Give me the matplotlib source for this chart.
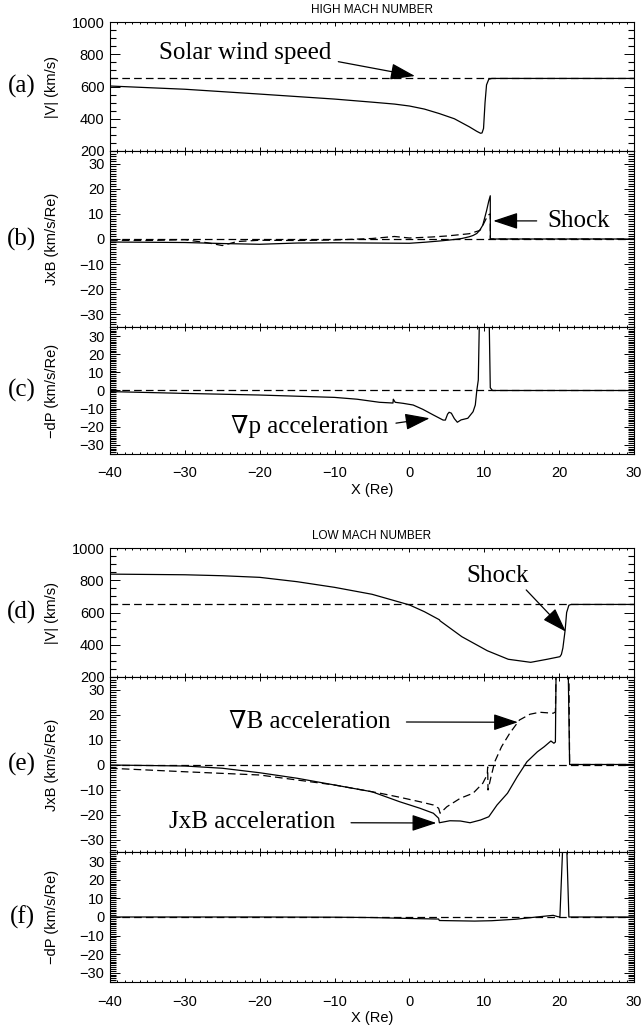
import numpy as np
import matplotlib
matplotlib.use("Agg")
import matplotlib.pyplot as plt
from matplotlib.ticker import MultipleLocator

plt.rcParams['font.family'] = ['Liberation Sans', 'DejaVu Sans']
plt.rcParams['lines.scale_dashes'] = False

# ---- data (x in Re) ----
# HIGH MACH NUMBER
a_x = [-40, -30, -20, -10, -5, -2, 0, 2, 4, 6, 7, 8, 9, 9.5, 9.7, 9.9, 10.1, 10.3, 10.6, 11, 30]
a_v = [603, 583, 553, 522, 503, 491, 479, 460, 432, 400, 375, 350, 322, 310, 312, 340, 500, 610, 645, 650, 650]

b_x = [-40, -30, -25, -20, -15, -10, -5, 0, 2, 4, 6, 7, 8, 8.5, 9, 9.4, 9.8, 10.0, 10.3, 10.6, 10.8, 10.81, 30]
b_v = [-1.2, -1.4, -1.8, -2.1, -1.6, -1.5, -1.6, -1.7, -1.3, -0.8, -0.2, 0.2, 0.9, 1.4, 2.2, 3.5, 5.5, 7.8, 11.2, 15.1, 17.2, 0, 0]
bd_x = [-40, -35, -30, -27, -25, -23, -20, -15, -10, -5, -2, 0, 3, 5, 8, 9.4, 9.8, 10.2, 10.5, 10.8, 10.81, 30]
bd_v = [-0.5, -0.6, -0.3, -1.5, -2.6, -1.0, -0.5, -0.6, -0.4, 0.2, 1.0, 0.4, 0.8, 1.2, 2.1, 3.4, 5.4, 7.8, 9.5, 10, 0, 0]

c_x = [-40, -30, -20, -10, -7, -4, -2.2, -2.15, -2.05, -1.9, -0.8, 0.5, 1.8, 3.2, 4.5, 4.8, 5.1, 5.3, 5.6,
       6.0, 6.4, 6.9, 7.8, 8.5, 8.8, 9.0, 9.2, 9.35, 10.65, 10.8, 11.1, 30]
c_v = [-0.6, -1.6, -2.5, -3.8, -4.8, -6.5, -6.9, -4.8, -5.5, -6.5, -7.1, -8.0, -10.4, -13.5, -16.3, -16.3, -13.0, -12.0, -12.5,
       -15.5, -17.5, -16.2, -15.3, -11.7, -8.0, 0, 5.8, 40, 40, 1.5, 0, 0]

# LOW MACH NUMBER
d_x = [-40, -30, -25, -20, -15, -10, -5, 0, 2, 4, 4.1, 7, 10.4, 13.2, 16.2, 18.4, 20.1, 20.3, 20.5, 20.8, 21.0, 21.3, 21.6, 30]
d_v = [838, 834, 828, 818, 791, 756, 713, 647, 605, 555, 548, 450, 363, 310, 291, 310, 326, 340, 380, 490, 600, 645, 650, 650]

e_x = [-40, -30, -25, -20, -15, -10, -5, -1.3, 1.4, 3.2, 3.9, 4.0, 5.4, 6.8, 8.1, 9.5, 10.6, 11.7, 13.1,
       14.4, 15.7, 17.1, 18.0, 18.9, 19.3, 19.5, 19.6, 21.2, 21.4, 30]
e_v = [-0.2, -0.6, -1.5, -3.3, -5.5, -8.2, -10.9, -14.9, -17.5, -19.5, -21.5, -23.3, -22.5, -22.6, -23.3, -22.2, -20.9, -16.2, -11.5,
       -4.9, 1.1, 5.1, 7.1, 9.4, 8.5, 9.0, 40, 40, 0, 0]
ed_x = [-40, -30, -20, -10, -3.9, -1.3, 1.4, 3.2, 3.9, 4.1, 5.0, 6.8, 8.5, 9.8, 10.4, 10.45, 10.5, 10.9, 11.4,
        12.3, 13.4, 14.7, 16.1, 17.4, 19.2, 19.5, 19.6, 21.3, 21.4, 30]
ed_v = [-1.5, -2.9, -4.2, -8.2, -11.5, -13.1, -14.9, -16.2, -17.5, -19.5, -16.9, -13.5, -11.5, -7.5, -4.0, -1.0, -10.2, -4.9, 1.1,
        7.1, 12.5, 17.8, 20.1, 20.9, 20.5, 21.0, 40, 40, 0, 0]

f_x = [-40, -20, -10, -5, 0, 3.9, 4.0, 8.7, 11, 14.2, 17, 19.2, 19.8, 20.1, 20.5, 21.0, 21.3, 30]
f_v = [0, 0, -0.1, -0.3, -0.8, -1.1, -1.9, -2.2, -2.0, -1.2, 0.0, 0.9, 0.2, 0, 40, 40, 0, 0]

v_sw = 650  # solar wind speed (km/s)

# ---- layout (pixel geometry of the reference) ----
W, H = 644, 1027
fig = plt.figure(figsize=(W / 100, H / 100), dpi=100)
L, R = 110, 634


def make_ax(top, bot):
    return fig.add_axes([L / W, 1 - bot / H, (R - L) / W, (bot - top) / H])


LW = 0.9
DASH = (0, (5.5, 3.0))
serif = ['Liberation Serif', 'DejaVu Serif']
SFS = 18


def style(ax, speed=False, xlabels=False):
    ax.set_xlim(-40, 30)
    ax.xaxis.set_major_locator(MultipleLocator(10))
    ax.xaxis.set_minor_locator(MultipleLocator(1))
    if speed:
        ax.set_ylim(200, 1000)
        ax.yaxis.set_major_locator(MultipleLocator(200))
        ax.yaxis.set_minor_locator(MultipleLocator(50))
    else:
        ax.set_ylim(-35, 35)
        ax.set_yticks([-30, -20, -10, 0, 10, 20, 30])
        ax.yaxis.set_minor_locator(MultipleLocator(1))
    ax.tick_params(axis='both', which='both', direction='in', top=True, right=True,
                   labelsize=10.5, width=0.7)
    ax.tick_params(axis='y', which='major', length=7, pad=4)
    ax.tick_params(axis='y', which='minor', length=4, width=0.8)
    ax.tick_params(axis='x', which='major', length=3, pad=9)
    ax.tick_params(axis='x', which='minor', length=1.5)
    ax.tick_params(axis='x', labelbottom=xlabels)
    for s in ax.spines.values():
        s.set_linewidth(0.8)
    ax.yaxis.set_label_coords(-0.098, 0.5)


def arrow(ax, tail, tip):
    ax.annotate('', xy=tip, xytext=tail,
                arrowprops=dict(arrowstyle='-|>,head_length=0.9,head_width=0.3',
                                color='black', lw=0.9, mutation_scale=17,
                                shrinkA=0, shrinkB=0))


def panel_letter(top, bot, s):
    fig.text(22 / W, 1 - (top + bot) / 2 / H, s, family=serif, fontsize=SFS,
             ha='center', va='center')


# ================= HIGH MACH NUMBER =================
fig.text((L + R) / 2 / W, 1 - 10 / H, 'HIGH MACH NUMBER', fontsize=8.5, ha='center', va='center')

ax = make_ax(22, 151)
ax.axhline(v_sw, color='black', lw=LW, ls=DASH)
ax.plot(a_x, a_v, color='black', lw=LW)
ax.set_ylabel('|V| (km/s)', fontsize=10.5)
style(ax, speed=True)
ax.text(-22, 808, 'Solar wind speed', family=serif, fontsize=SFS, ha='center', va='center')
arrow(ax, (-9.5, 754), (0.74, 665))
panel_letter(22, 151, '(a)')

ax = make_ax(151, 327)
ax.axhline(0, color='black', lw=LW, ls=DASH)
ax.plot(bd_x, bd_v, color='black', lw=LW, ls=DASH)
ax.plot(b_x, b_v, color='black', lw=LW)
ax.set_ylabel('JxB (km/s/Re)', fontsize=10.5)
style(ax)
ax.text(18.4, 7.2, 'Shock', family=serif, fontsize=SFS, ha='left', va='center')
arrow(ax, (17.0, 7.2), (11.2, 7.2))
panel_letter(151, 327, '(b)')

ax = make_ax(327, 454)
ax.axhline(0, color='black', lw=LW, ls=DASH)
ax.plot(c_x, c_v, color='black', lw=LW)
ax.set_ylabel('\u2212dP (km/s/Re)', fontsize=10.5)
style(ax, xlabels=True)
ax.set_xlabel('X (Re)', fontsize=10.5, labelpad=2)
ax.text(-13.3, -20, '\u2207p acceleration', family=serif, fontsize=SFS, ha='center', va='center')
arrow(ax, (-1.8, -18), (2.7, -15.3))
panel_letter(327, 454, '(c)')

# ================= LOW MACH NUMBER =================
fig.text((L + R) / 2 / W, 1 - 536 / H, 'LOW MACH NUMBER', fontsize=8.5, ha='center', va='center')

ax = make_ax(548, 677)
ax.axhline(v_sw, color='black', lw=LW, ls=DASH)
ax.plot(d_x, d_v, color='black', lw=LW)
ax.set_ylabel('|V| (km/s)', fontsize=10.5)
style(ax, speed=True)
ax.text(11.8, 826, 'Shock', family=serif, fontsize=SFS, ha='center', va='center')
arrow(ax, (15.6, 740), (20.9, 481))
panel_letter(548, 677, '(d)')

ax = make_ax(677, 852)
ax.axhline(0, color='black', lw=LW, ls=DASH)
ax.plot(ed_x, ed_v, color='black', lw=LW, ls=DASH)
ax.plot(e_x, e_v, color='black', lw=LW)
ax.set_ylabel('JxB (km/s/Re)', fontsize=10.5)
style(ax)
ax.text(-13.3, 17.1, '\u2207B acceleration', family=serif, fontsize=SFS, ha='center', va='center')
arrow(ax, (-0.4, 17.0), (14.5, 16.9))
ax.text(-21, -22.9, 'JxB acceleration', family=serif, fontsize=SFS, ha='center', va='center')
arrow(ax, (-7.8, -23.3), (3.6, -23.4))
panel_letter(677, 852, '(e)')

ax = make_ax(852, 982)
ax.axhline(0, color='black', lw=LW, ls=DASH)
ax.plot(f_x, f_v, color='black', lw=LW)
ax.set_ylabel('\u2212dP (km/s/Re)', fontsize=10.5)
style(ax, xlabels=True)
ax.set_xlabel('X (Re)', fontsize=10.5, labelpad=2)
panel_letter(852, 982, '(f)')

fig.savefig('out.png', dpi=100)
